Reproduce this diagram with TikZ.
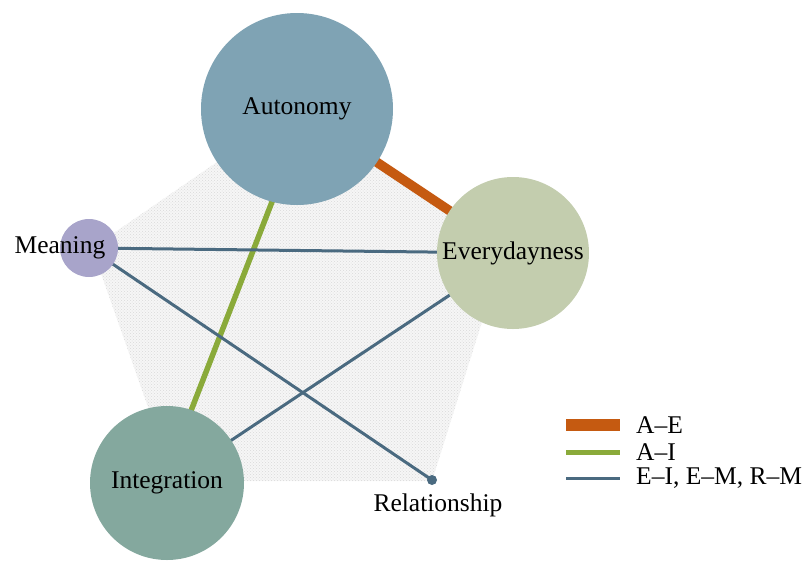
\documentclass[tikz,border=0pt]{standalone}
\usepackage{fontspec}
\setmainfont{Liberation Serif}
\usetikzlibrary{positioning, backgrounds, patterns}
\definecolor{autoc}{HTML}{7FA3B4}
\definecolor{everc}{HTML}{C3CDAE}
\definecolor{integc}{HTML}{84A89E}
\definecolor{meanc}{HTML}{A8A4CA}
\definecolor{orangec}{HTML}{C55A11}
\definecolor{greenc}{HTML}{8AAA3A}
\definecolor{bluec}{HTML}{4A6A80}
\begin{document}
\begin{tikzpicture}[x=1pt, y=-1pt, font=\fontsize{25.5}{30}\selectfont,
    bubble/.style={circle, inner sep=0pt},
    ae/.style={draw=orangec, line width=9.5pt},
    ai/.style={draw=greenc, line width=5.5pt},
    em/.style={draw=bluec, line width=3pt}]
  \useasboundingbox (0,0) rectangle (807,566);
  \node[bubble, fill=autoc, minimum size=192pt] (a) at (297,109) {Autonomy};
  \node[bubble, fill=everc, minimum size=152pt] (e) at (513,253) {Everydayness};
  \node[bubble, fill=integc, minimum size=154pt] (i) at (167,483) {Integration};
  \node[bubble, fill=meanc, minimum size=58pt] (m) at (89,248) {};
  \node (mtext) at (60,248) {Meaning};
  \node[bubble, fill=bluec, minimum size=10pt] (r) at (432,480) {};
  \node (rtext) at (438,505) {Relationship};
  \begin{scope}[on background layer]
    \fill[gray!7] (297,107) -- (504,252) -- (432,481) -- (174,481) -- (92,248) -- cycle;
    \fill[pattern=crosshatch dots, pattern color=gray!30] (297,107) -- (504,252) -- (432,481) -- (174,481) -- (92,248) -- cycle;
    \path (a.center) edge[ae] (e.center)
          ([xshift=11pt]a.center) edge[ai] ([xshift=-4pt]i.center)
          (m.center) edge[em] (e.center)
          (m.center) edge[em] (r.center)
          (e.center) edge[em] (i.center);
  \end{scope}
  % legend
  \foreach \y/\s/\w/\t in {425/ae/12/A–E, 452/ai/5/A–I, 478/em/3/{E–I, E–M, R–M}} {
    \draw[\s, line width=\w pt] (566,\y) -- (620,\y);
    \node[anchor=west, inner sep=0pt] at (636,\y) {\t};
  }
\end{tikzpicture}
\end{document}
